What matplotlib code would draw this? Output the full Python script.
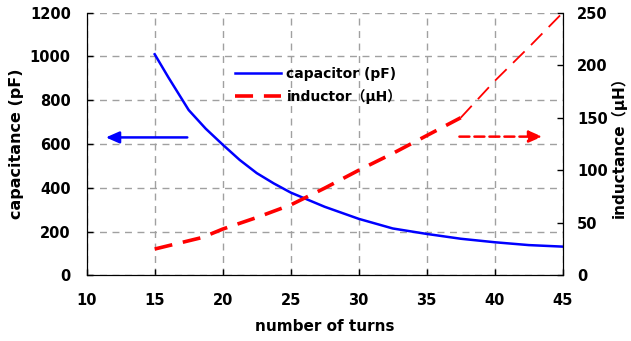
import matplotlib
matplotlib.use("Agg")
import matplotlib.pyplot as plt

plt.rcParams['font.family'] = ['DejaVu Sans', 'Noto Sans CJK JP']
plt.rcParams['font.weight'] = 'bold'

cap_turns = [15, 16, 17.5, 18.75, 20, 21.25, 22.5, 23.75, 25, 27.5, 30, 32.5, 35, 37.5, 40, 42.5, 45]
capacitance = [1010, 905, 755, 670, 597, 527, 467, 420, 378, 313, 258, 214, 189, 167, 151, 138, 131]
ind_turns = [15, 18.5, 20, 22.5, 25, 27.5, 30, 32.5, 35, 37.5, 40, 42.5, 45]
inductance = [25, 36, 44, 55, 67, 83, 100, 116, 133, 150, 185, 217, 250]

x_ticks = [10, 15, 20, 25, 30, 35, 40, 45]
cap_ticks = [0, 200, 400, 600, 800, 1000, 1200]
ind_ticks = [0, 50, 100, 150, 200, 250]

fig = plt.figure(figsize=(6.31, 3.41), dpi=100)
ax = fig.add_axes([0.1374, 0.1927, 0.8918 - 0.1374, 0.9628 - 0.1927])
ax2 = ax.twinx()

ax.set_xlim(10, 45)
ax.set_ylim(0, 1200)
ax2.set_ylim(0, 250)
ax.set_xticks(x_ticks)
ax.set_yticks(cap_ticks)
ax2.set_yticks(ind_ticks)

for a in (ax, ax2):
    a.spines['top'].set_visible(False)
    a.tick_params(direction='in', length=4, width=1, labelsize=10.5)
ax.tick_params(axis='y', pad=11.5)
ax.tick_params(axis='x', pad=13)
ax2.tick_params(axis='y', pad=10.5)
ax.grid(True, color='#a0a0a0', linestyle=(0, (5, 4)), linewidth=1)
ax.set_axisbelow(True)

ln_c, = ax.plot(cap_turns, capacitance, color='#0000ff', lw=1.8, label='capacitor (pF)')
k = ind_turns.index(37.5)
ln_i, = ax2.plot(ind_turns[:k + 1], inductance[:k + 1], color='#ff0000', lw=2.6,
                 linestyle=(0, (5, 3)), label='inductor（μH）')
ax2.plot(ind_turns[k:], inductance[k:], color='#ff0000', lw=1.3, linestyle=(0, (9, 5)))

ax.annotate('', xy=(11.2, 630), xytext=(17.6, 630),
            arrowprops=dict(arrowstyle='-|>,head_length=0.8,head_width=0.35',
                            color='#0000ff', lw=1.8))
ax2.annotate('', xy=(43.7, 132), xytext=(37.2, 132),
             arrowprops=dict(arrowstyle='-|>,head_length=0.8,head_width=0.35',
                             color='#ff0000', lw=1.8, linestyle=(0, (4, 2))))

ax.set_xlabel('number of turns', fontsize=11, fontweight='bold', labelpad=8)
ax.set_ylabel('capacitance (pF)', fontsize=11.5, fontweight='bold', labelpad=4)
ax2.set_ylabel('inductance（μH）', fontsize=11, fontweight='bold', labelpad=2)

for lbl in ax.get_xticklabels() + ax.get_yticklabels() + ax2.get_yticklabels():
    lbl.set_fontweight('bold')

leg = ax.legend(handles=[ln_c, ln_i], loc='upper left', bbox_to_anchor=(0.30, 0.815),
                frameon=False, handlelength=3.3, handletextpad=0.4, borderaxespad=0,
                labelspacing=0.6, prop={'weight': 'bold', 'size': 10})

fig.savefig('out.png', dpi=100)
